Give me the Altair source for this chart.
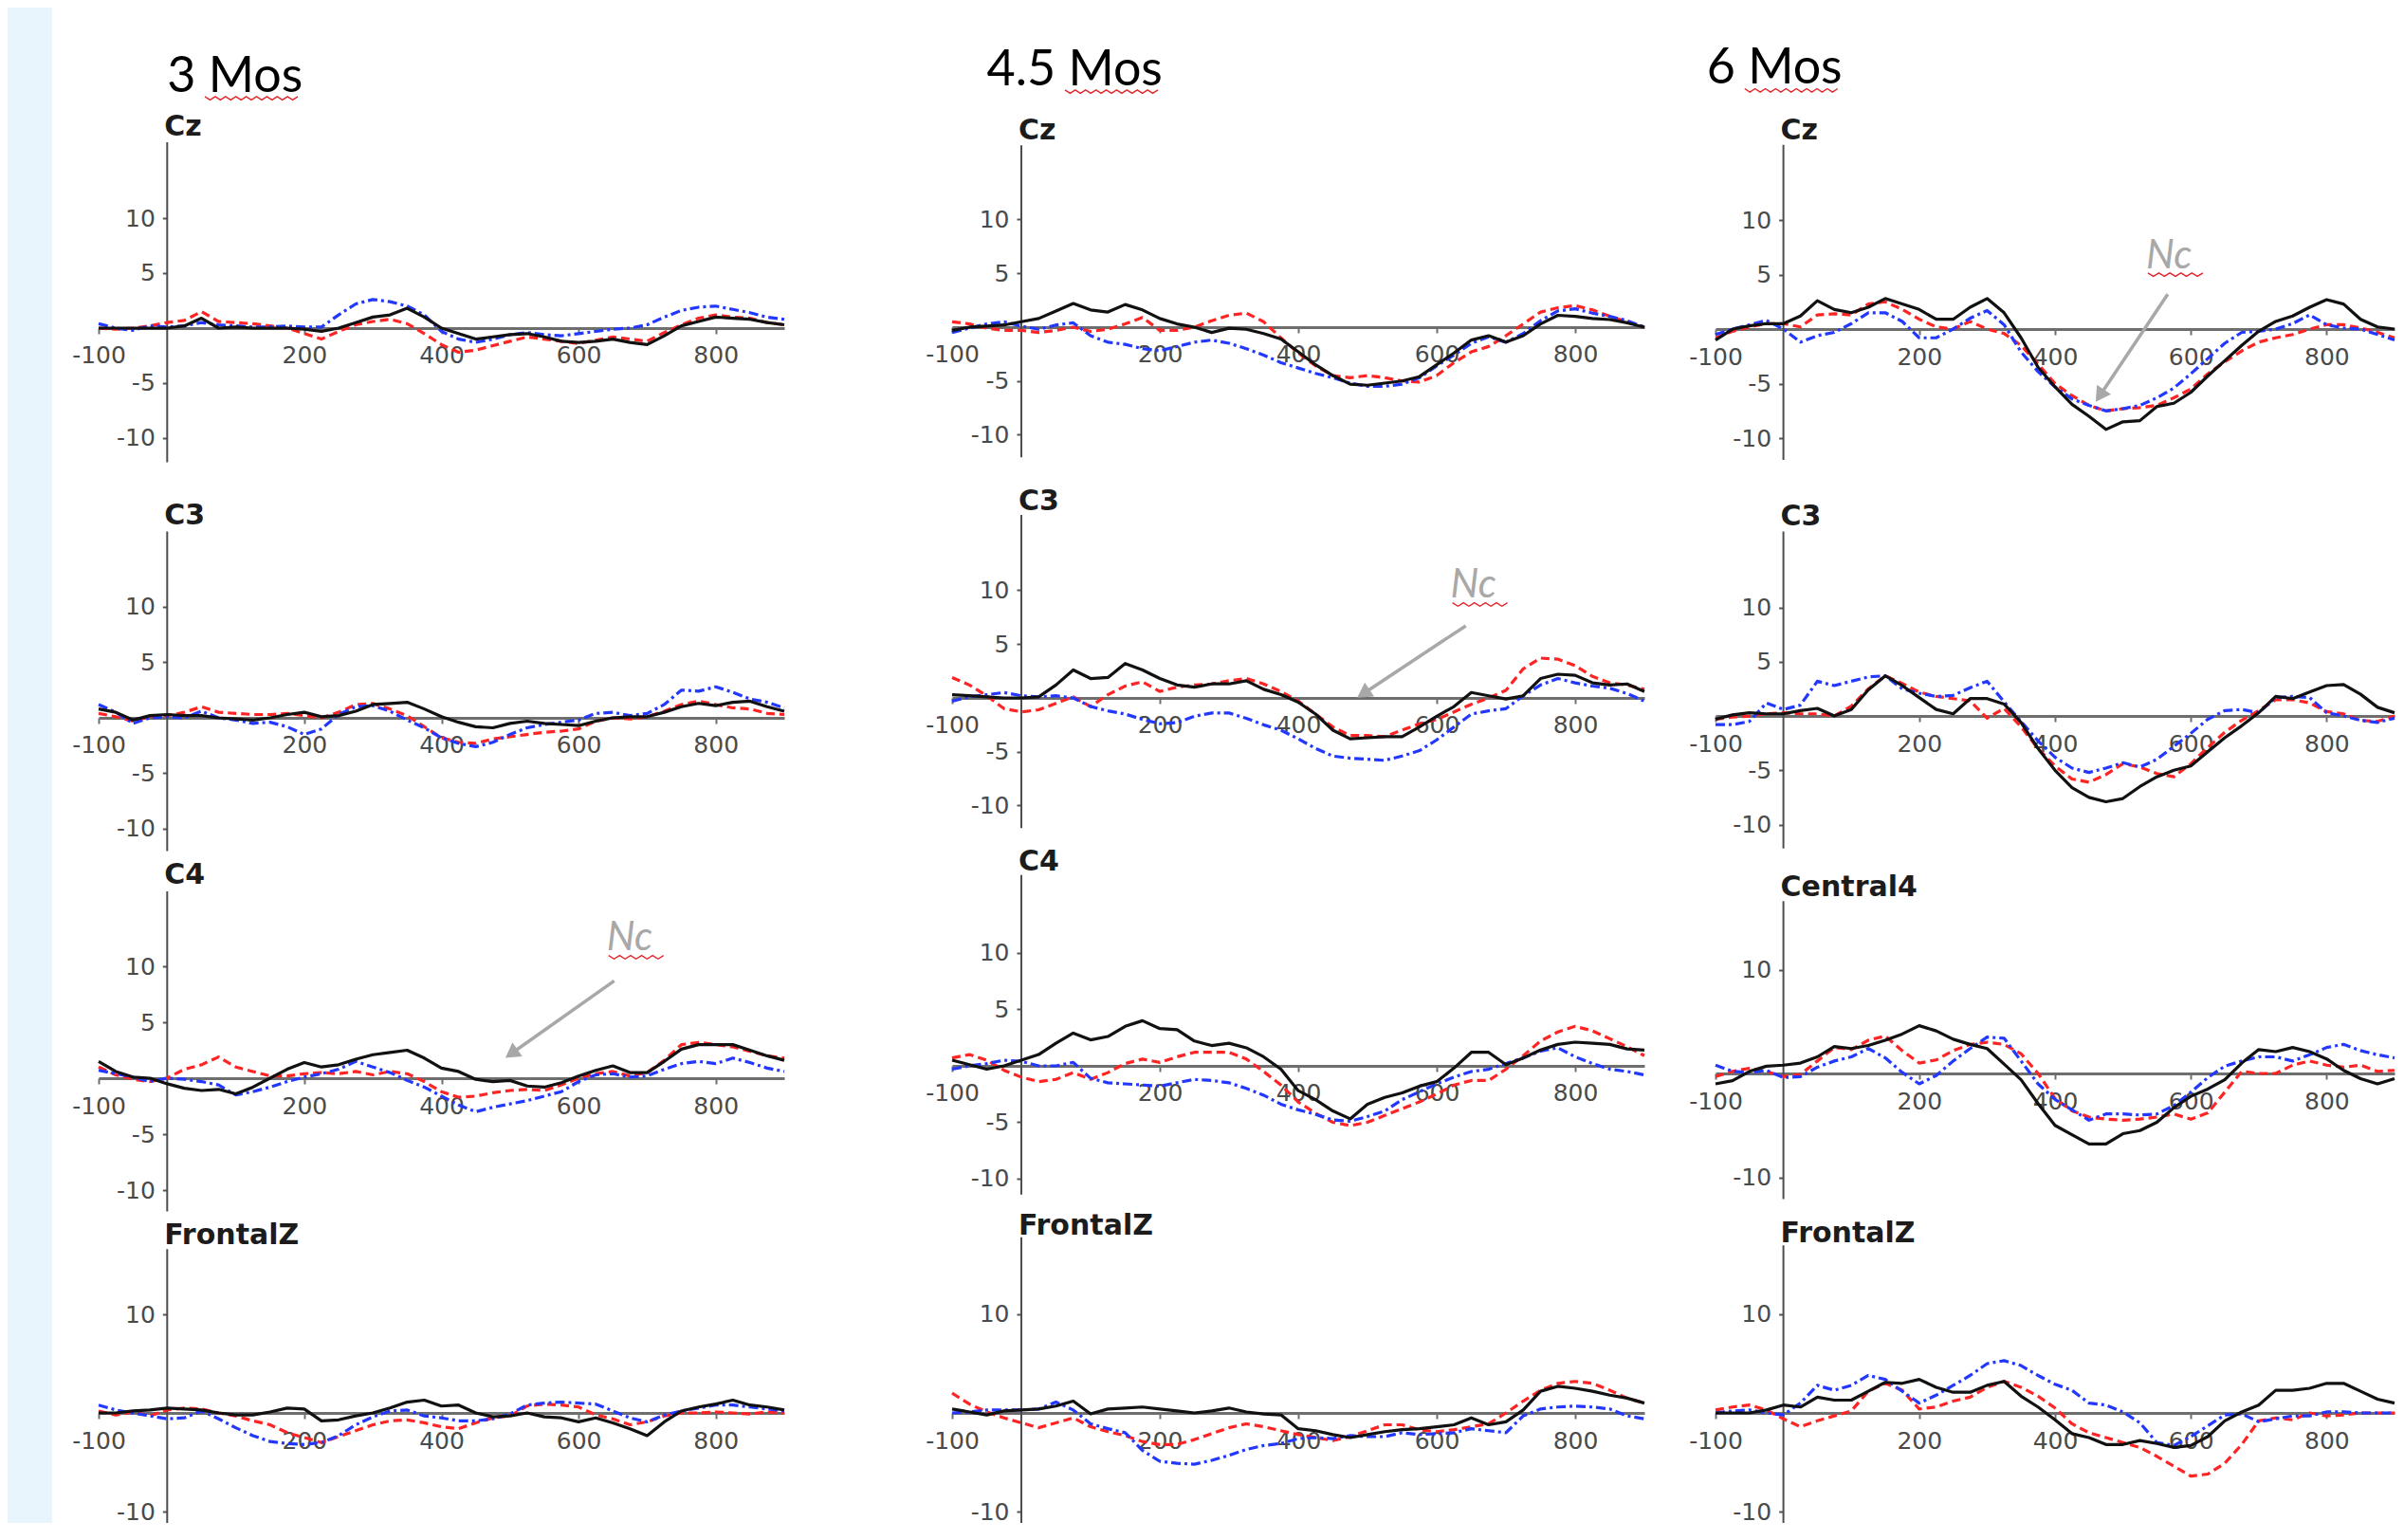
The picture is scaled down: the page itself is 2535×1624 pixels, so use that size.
import math
import altair as alt
import pandas as pd

# ---------------- data (µV, every 25 ms) ----------------
T = [-100, -75, -50, -25, 0, 25, 50, 75, 100, 125, 150, 175, 200, 225, 250, 275,
     300, 325, 350, 375, 400, 425, 450, 475, 500, 525, 550, 575, 600, 625, 650,
     675, 700, 725, 750, 775, 800, 825, 850, 875, 900]
X_TICKS = [-100, 200, 400, 600, 800]
AGES = ["3 Mos", "4.5 Mos", "6 Mos"]

# 3 months
m3_cz_black = [0.0, 0.0, 0.0, 0.0, 0.0, 0.2, 0.9, 0.0, 0.1, 0.0, 0.0, 0.0, -0.1, -0.3, 0.0, 0.5, 1.0, 1.2, 1.8, 1.0, 0.0, -0.5, -1.0, -0.8, -0.6, -0.5, -0.8, -1.2, -1.3, -1.2, -1.0, -1.3, -1.5, -0.7, 0.2, 0.6, 1.0, 0.9, 0.8, 0.5, 0.3]
m3_cz_red = [0.0, -0.1, 0.0, 0.2, 0.5, 0.7, 1.5, 0.6, 0.5, 0.4, 0.2, 0.0, -0.5, -1.0, -0.3, 0.3, 0.6, 0.8, 0.4, -0.5, -1.5, -2.2, -2.0, -1.6, -1.2, -0.8, -1.0, -1.2, -1.4, -1.1, -0.8, -1.0, -1.2, -0.4, 0.3, 0.9, 1.2, 1.0, 0.9, 0.5, 0.3]
m3_cz_blue = [0.4, 0.0, -0.2, 0.2, 0.1, 0.2, 0.5, 0.3, 0.2, 0.1, 0.1, 0.2, 0.1, 0.1, 1.2, 2.2, 2.6, 2.4, 2.0, 1.2, -0.3, -1.0, -1.3, -1.0, -0.6, -0.4, -0.6, -0.7, -0.5, -0.3, -0.1, 0.0, 0.3, 1.0, 1.6, 1.9, 2.0, 1.7, 1.4, 1.0, 0.8]

m3_c3_black = [0.8, 0.5, -0.2, 0.2, 0.3, 0.2, 0.2, 0.0, -0.1, -0.2, 0.0, 0.3, 0.5, 0.1, 0.2, 0.6, 1.2, 1.3, 1.4, 0.8, 0.1, -0.4, -0.8, -0.9, -0.5, -0.3, -0.5, -0.6, -0.7, -0.3, 0.0, 0.1, 0.1, 0.5, 1.0, 1.3, 1.1, 1.4, 1.5, 1.0, 0.6]
m3_c3_red = [0.4, 0.1, -0.3, 0.1, 0.2, 0.5, 1.0, 0.5, 0.4, 0.3, 0.3, 0.4, 0.2, 0.0, 0.5, 1.2, 1.3, 0.8, 0.2, -0.8, -1.8, -2.2, -2.3, -1.9, -1.7, -1.5, -1.3, -1.2, -1.0, -0.3, 0.0, -0.1, 0.1, 0.6, 1.2, 1.5, 1.2, 0.9, 0.8, 0.4, 0.3]
m3_c3_blue = [1.2, 0.5, -0.5, 0.0, 0.1, 0.0, 0.6, 0.0, -0.2, -0.5, -0.4, -0.8, -1.5, -1.0, 0.3, 1.0, 1.1, 0.6, -0.2, -0.9, -1.8, -2.3, -2.6, -2.2, -1.5, -0.9, -0.6, -0.4, -0.2, 0.4, 0.5, 0.2, 0.4, 1.2, 2.5, 2.4, 2.8, 2.3, 1.7, 1.4, 0.9]

m3_c4_black = [1.5, 0.6, 0.1, 0.0, -0.5, -0.9, -1.1, -1.0, -1.4, -0.8, 0.0, 0.8, 1.4, 1.0, 1.2, 1.7, 2.1, 2.3, 2.5, 1.8, 0.9, 0.6, -0.1, -0.3, -0.2, -0.7, -0.8, -0.4, 0.2, 0.7, 1.1, 0.5, 0.5, 1.5, 2.6, 3.0, 3.0, 3.0, 2.5, 2.0, 1.6]
m3_c4_red = [1.0, 0.3, -0.1, -0.3, 0.0, 0.8, 1.2, 1.9, 1.0, 0.6, 0.2, 0.2, 0.4, 0.5, 0.4, 0.6, 0.3, 0.6, 0.4, -0.3, -1.2, -1.7, -1.6, -1.3, -1.1, -1.0, -1.1, -0.6, 0.0, 0.4, 0.6, 0.2, 0.5, 1.6, 3.0, 3.2, 3.0, 2.8, 2.4, 2.0, 1.8]
m3_c4_blue = [0.7, 0.4, 0.1, -0.3, 0.0, -0.1, -0.3, -0.6, -1.5, -1.2, -0.8, -0.3, 0.1, 0.4, 0.8, 1.5, 1.0, 0.5, -0.2, -0.8, -1.6, -2.4, -3.0, -2.6, -2.3, -2.0, -1.6, -1.2, -0.3, 0.3, 0.4, 0.1, 0.2, 0.8, 1.3, 1.5, 1.3, 1.8, 1.4, 0.9, 0.6]

m3_fz_black = [0.0, 0.0, 0.2, 0.3, 0.5, 0.4, 0.3, 0.0, -0.2, -0.2, 0.1, 0.5, 0.4, -0.8, -0.7, -0.3, 0.0, 0.5, 1.1, 1.3, 0.7, 0.8, 0.0, -0.4, -0.3, 0.0, -0.4, -0.5, -0.9, -0.5, -1.0, -1.6, -2.3, -0.9, 0.2, 0.6, 0.9, 1.3, 0.8, 0.6, 0.3]
m3_fz_red = [0.2, -0.2, 0.1, -0.3, 0.3, 0.5, 0.4, 0.0, -0.3, -0.8, -1.2, -2.0, -2.5, -3.0, -2.4, -1.8, -1.2, -0.8, -0.7, -1.0, -1.4, -1.6, -1.0, -0.5, -0.3, 0.7, 0.9, 0.8, 0.6, -0.2, -0.6, -1.2, -0.9, -0.3, 0.0, 0.0, 0.1, 0.0, -0.1, 0.1, 0.0]
m3_fz_blue = [0.8, 0.3, 0.0, -0.3, -0.6, -0.5, 0.2, -0.6, -1.5, -2.3, -2.9, -3.1, -3.2, -3.0, -2.3, -1.2, -0.4, 0.2, 0.3, -0.3, -0.5, -0.8, -0.8, -0.6, -0.1, 0.8, 1.0, 1.1, 1.0, 0.9, 0.2, -0.5, -0.9, -0.2, 0.2, 0.5, 0.8, 0.8, 0.6, 0.4, 0.2]

# 4.5 months
m45_cz_black = [-0.3, 0.0, 0.1, 0.2, 0.5, 0.8, 1.5, 2.2, 1.6, 1.4, 2.1, 1.6, 0.8, 0.3, 0.0, -0.5, -0.1, -0.2, -0.6, -1.1, -2.3, -3.5, -4.5, -5.3, -5.4, -5.2, -5.0, -4.6, -3.5, -2.4, -1.2, -0.8, -1.4, -0.8, 0.3, 1.1, 1.0, 0.8, 0.7, 0.4, 0.0]
m45_cz_red = [0.5, 0.3, -0.1, -0.3, -0.3, -0.5, -0.3, 0.0, -0.4, -0.2, 0.3, 0.9, -0.3, -0.3, 0.0, 0.6, 1.1, 1.3, 0.5, -1.0, -2.4, -3.6, -4.5, -4.7, -4.5, -4.7, -5.0, -5.1, -4.5, -3.3, -2.3, -1.8, -0.8, 0.3, 1.4, 1.8, 2.0, 1.6, 1.0, 0.5, 0.0]
m45_cz_blue = [-0.5, -0.1, 0.3, 0.5, 0.1, -0.2, 0.2, 0.4, -0.8, -1.4, -1.6, -2.0, -2.2, -1.8, -1.4, -1.2, -1.5, -2.0, -2.6, -3.3, -3.8, -4.3, -4.7, -5.2, -5.5, -5.5, -5.3, -4.7, -3.6, -2.6, -1.5, -0.9, -1.4, -0.6, 0.6, 1.5, 1.7, 1.3, 1.0, 0.6, 0.0]

m45_c3_black = [0.3, 0.2, 0.1, 0.0, 0.0, 0.1, 1.2, 2.6, 1.8, 1.9, 3.2, 2.6, 1.8, 1.2, 1.0, 1.3, 1.3, 1.6, 0.8, 0.3, -0.4, -1.5, -3.0, -3.8, -3.7, -3.6, -3.6, -2.7, -1.7, -0.8, 0.5, 0.2, -0.1, 0.2, 1.8, 2.2, 2.1, 1.4, 1.2, 1.3, 0.6]
m45_c3_red = [1.9, 1.2, 0.2, -1.0, -1.3, -1.1, -0.5, 0.1, -0.8, 0.3, 1.1, 1.5, 0.6, 1.0, 1.2, 1.3, 1.6, 1.8, 1.3, 0.6, -0.3, -1.5, -2.7, -3.5, -3.5, -3.6, -3.0, -2.4, -2.0, -1.3, -0.6, 0.0, 0.7, 2.7, 3.7, 3.6, 3.0, 2.0, 1.4, 1.2, 0.8]
m45_c3_blue = [-0.3, 0.1, 0.3, 0.5, 0.2, 0.1, 0.2, 0.0, -0.8, -1.2, -1.5, -2.0, -2.4, -2.3, -1.7, -1.4, -1.4, -1.9, -2.5, -3.0, -3.8, -4.7, -5.4, -5.6, -5.7, -5.8, -5.4, -4.9, -3.9, -2.7, -1.5, -1.2, -1.0, 0.2, 1.2, 1.8, 1.4, 1.1, 0.9, 0.4, -0.3]

m45_c4_black = [0.5, 0.1, -0.3, 0.0, 0.5, 1.0, 2.0, 2.9, 2.3, 2.6, 3.5, 4.0, 3.3, 3.2, 2.2, 1.8, 2.0, 1.6, 0.8, -0.3, -2.2, -3.0, -4.0, -4.7, -3.4, -2.8, -2.4, -1.8, -1.4, -0.2, 1.2, 1.2, 0.1, 0.7, 1.4, 1.9, 2.1, 2.0, 1.9, 1.5, 1.4]
m45_c4_red = [0.7, 1.0, 0.5, -0.4, -1.0, -1.4, -1.2, -0.6, -1.2, -0.6, 0.2, 0.6, 0.3, 0.8, 1.2, 1.2, 1.2, 0.6, -0.5, -1.7, -3.2, -4.2, -5.0, -5.3, -5.0, -4.4, -3.8, -3.2, -2.5, -1.7, -1.3, -1.3, -0.3, 0.9, 2.2, 3.0, 3.5, 3.1, 2.4, 1.7, 0.9]
m45_c4_blue = [-0.3, 0.0, 0.2, 0.5, 0.4, 0.0, 0.0, 0.3, -1.1, -1.5, -1.6, -1.7, -1.8, -1.5, -1.2, -1.3, -1.5, -2.0, -2.6, -3.4, -3.9, -4.3, -4.8, -4.9, -4.5, -4.0, -3.0, -2.3, -1.6, -1.0, -0.5, -0.3, 0.2, 0.7, 1.3, 1.6, 0.8, 0.2, -0.3, -0.5, -0.8]

m45_fz_black = [0.4, 0.1, -0.2, 0.2, 0.3, 0.4, 0.7, 1.2, -0.1, 0.4, 0.5, 0.6, 0.4, 0.2, 0.0, 0.2, 0.5, 0.1, -0.1, -0.2, -1.6, -1.8, -2.2, -2.5, -2.2, -1.9, -1.7, -1.6, -1.4, -1.2, -0.5, -1.2, -0.9, 0.3, 2.2, 2.7, 2.5, 2.2, 1.8, 1.5, 1.0]
m45_fz_red = [2.0, 0.9, 0.1, -0.5, -1.0, -1.5, -1.0, -0.5, -1.4, -1.9, -2.3, -2.9, -3.2, -3.2, -2.7, -2.1, -1.5, -1.1, -1.4, -1.8, -2.2, -2.5, -2.8, -2.4, -1.8, -1.2, -1.2, -1.7, -1.9, -1.7, -1.4, -1.1, 0.0, 1.2, 2.3, 3.0, 3.2, 3.0, 2.3, 1.5, 1.0]
m45_fz_blue = [0.0, 0.1, 0.3, 0.3, 0.3, 0.4, 1.1, 0.3, -1.1, -1.6, -2.0, -3.8, -4.9, -5.1, -5.2, -4.8, -4.3, -3.7, -3.3, -3.1, -2.6, -2.5, -2.6, -2.3, -2.4, -2.4, -2.0, -2.2, -2.1, -2.0, -1.6, -1.8, -2.0, -0.3, 0.4, 0.6, 0.7, 0.6, 0.4, -0.3, -0.6]

# 6 months
m6_cz_black = [-1.0, 0.0, 0.3, 0.5, 0.5, 1.2, 2.6, 1.8, 1.5, 2.0, 2.8, 2.3, 1.8, 0.9, 0.9, 2.0, 2.8, 1.5, -0.8, -3.5, -5.3, -6.9, -8.0, -9.2, -8.5, -8.4, -7.1, -6.8, -5.8, -4.3, -2.9, -1.5, -0.2, 0.7, 1.2, 2.0, 2.7, 2.3, 0.9, 0.2, 0.0]
m6_cz_red = [-0.8, -0.2, 0.2, 0.5, 0.5, 0.2, 1.3, 1.4, 1.3, 2.3, 2.5, 1.8, 0.9, 0.2, 0.0, 0.7, 0.0, -0.4, -1.5, -3.2, -5.0, -6.1, -7.0, -7.5, -7.3, -7.2, -7.0, -6.3, -5.5, -4.1, -3.0, -2.0, -1.2, -0.8, -0.5, 0.0, 0.4, 0.4, 0.1, -0.3, -0.8]
m6_cz_blue = [-0.5, 0.0, 0.4, 0.8, 0.0, -1.2, -0.6, -0.3, 0.5, 1.5, 1.5, 0.7, -0.8, -0.8, 0.0, 1.0, 1.7, 0.4, -2.1, -3.9, -5.3, -6.4, -7.0, -7.5, -7.3, -7.0, -6.3, -5.4, -4.1, -2.7, -1.3, -0.3, -0.2, 0.0, 0.5, 1.3, 0.4, 0.1, 0.0, -0.5, -1.0]

m6_c3_black = [-0.3, 0.1, 0.3, 0.2, 0.2, 0.5, 0.7, 0.0, 0.6, 2.4, 3.7, 2.8, 1.7, 0.6, 0.2, 1.6, 1.6, 1.1, -0.6, -3.0, -5.0, -6.6, -7.5, -7.9, -7.6, -6.5, -5.6, -5.0, -4.6, -3.3, -2.0, -0.9, 0.3, 1.8, 1.6, 2.2, 2.8, 2.9, 2.0, 0.8, 0.3]
m6_c3_red = [-0.3, -0.1, 0.0, 0.2, 0.3, 0.2, 0.2, 0.0, 0.9, 2.5, 3.7, 3.0, 2.2, 1.8, 1.6, 1.4, -0.2, 0.7, -1.0, -3.0, -4.6, -5.8, -6.1, -5.4, -4.4, -4.7, -5.3, -5.6, -4.4, -2.9, -1.5, -0.4, 0.5, 1.5, 1.5, 1.2, 0.4, 0.2, -0.4, -0.5, 0.0]
m6_c3_blue = [-0.8, -0.8, -0.5, 1.2, 0.6, 1.0, 3.2, 2.8, 3.2, 3.6, 3.7, 2.5, 2.1, 1.8, 1.9, 2.6, 3.2, 1.3, -0.5, -2.3, -3.8, -4.8, -5.2, -4.8, -4.3, -4.7, -4.0, -2.8, -1.6, -0.3, 0.5, 0.6, 0.3, 1.7, 1.8, 1.7, 0.3, 0.0, -0.4, -0.6, -0.2]

m6_c4_black = [-1.0, -0.7, 0.2, 0.7, 0.8, 1.0, 1.6, 2.6, 2.4, 2.7, 3.2, 3.8, 4.6, 4.1, 3.3, 2.8, 2.4, 0.9, -0.6, -2.9, -5.0, -5.9, -6.8, -6.8, -5.8, -5.5, -4.7, -3.3, -2.2, -1.5, -0.6, 1.0, 2.3, 2.1, 2.5, 2.1, 1.4, 0.3, -0.5, -1.0, -0.5]
m6_c4_red = [-0.3, 0.2, 0.5, 0.2, -0.3, -0.1, 1.2, 2.5, 2.3, 3.2, 3.6, 2.2, 1.0, 1.3, 2.2, 2.8, 3.0, 2.8, 1.9, 0.0, -2.4, -3.6, -4.2, -4.4, -4.5, -4.4, -4.2, -3.9, -4.4, -3.8, -1.8, 0.2, 0.0, 0.0, 0.8, 1.2, 0.8, 0.6, 0.8, 0.2, 0.3]
m6_c4_blue = [0.8, 0.2, 0.1, 0.3, -0.4, -0.3, 0.6, 1.2, 1.6, 2.4, 1.5, 0.1, -1.0, -0.2, 1.2, 2.4, 3.5, 3.4, 1.2, -1.0, -2.5, -3.5, -4.5, -3.9, -3.9, -4.0, -3.9, -3.1, -1.8, -0.4, 0.7, 1.2, 1.6, 1.6, 1.2, 1.8, 2.5, 2.8, 2.2, 1.8, 1.5]

m6_fz_black = [0.0, 0.0, 0.0, 0.3, 0.8, 0.6, 1.6, 1.3, 1.3, 2.2, 3.1, 3.0, 3.4, 2.6, 2.1, 2.1, 2.8, 3.2, 1.7, 0.6, -0.7, -2.1, -2.5, -3.2, -3.2, -2.8, -3.1, -3.5, -3.3, -2.4, -0.8, 0.1, 0.8, 2.3, 2.3, 2.5, 3.0, 3.0, 2.2, 1.4, 1.0]
m6_fz_red = [0.3, 0.6, 0.8, 0.3, -0.6, -1.4, -0.8, -0.3, 0.2, 2.2, 3.0, 2.3, 0.4, 0.6, 1.2, 1.6, 2.6, 3.2, 2.6, 1.7, 0.5, -1.1, -2.0, -2.5, -3.0, -3.5, -4.4, -5.4, -6.4, -6.2, -5.1, -3.2, -0.8, -0.5, -0.7, 0.0, -0.3, -0.2, 0.0, 0.0, 0.0]
m6_fz_blue = [0.0, 0.2, 0.3, 0.0, -0.2, 1.0, 2.8, 2.3, 2.8, 3.8, 3.4, 2.2, 1.0, 1.8, 2.8, 3.8, 5.0, 5.3, 4.8, 3.8, 2.9, 2.3, 1.0, 0.8, 0.1, -1.0, -3.0, -3.3, -2.4, -1.3, -0.2, -0.1, -0.9, -0.6, -0.3, -0.3, 0.1, 0.1, 0.0, 0.0, 0.0]

# panel contents: (channel label, y tick values, black, red, blue)
PANELS = [
    [("Cz", [10, 5, -5, -10], m3_cz_black, m3_cz_red, m3_cz_blue),
     ("C3", [10, 5, -5, -10], m3_c3_black, m3_c3_red, m3_c3_blue),
     ("C4", [10, 5, -5, -10], m3_c4_black, m3_c4_red, m3_c4_blue),
     ("FrontalZ", [10, -10], m3_fz_black, m3_fz_red, m3_fz_blue)],
    [("Cz", [10, 5, -5, -10], m45_cz_black, m45_cz_red, m45_cz_blue),
     ("C3", [10, 5, -5, -10], m45_c3_black, m45_c3_red, m45_c3_blue),
     ("C4", [10, 5, -5, -10], m45_c4_black, m45_c4_red, m45_c4_blue),
     ("FrontalZ", [10, -10], m45_fz_black, m45_fz_red, m45_fz_blue)],
    [("Cz", [10, 5, -5, -10], m6_cz_black, m6_cz_red, m6_cz_blue),
     ("C3", [10, 5, -5, -10], m6_c3_black, m6_c3_red, m6_c3_blue),
     ("Central4", [10, -10], m6_c4_black, m6_c4_red, m6_c4_blue),
     ("FrontalZ", [10, -10], m6_fz_black, m6_fz_red, m6_fz_blue)],
]

# "Nc" annotations: (col, row) -> text anchor (t, µV), arrow from -> to
NC = {
    (0, 2): {"text": (641, 11.4), "arrow": [(652, 8.7), (502, 2.2)]},
    (1, 1): {"text": (620, 9.3), "arrow": [(642, 6.7), (494, 0.4)]},
    (2, 0): {"text": (534, 5.6), "arrow": [(566, 3.2), (466, -6.1)]},
}

# ---------------- layout / style ----------------
COLS = [
    {"W": 723, "title_at": (0, 21.5), "squig_t": 55, "rows": [
        {"H": 502, "dom": (-14.14, 29.14), "label_v": 17.5, "axis": (-12.2, 16.9)},
        {"H": 395, "dom": (-12.65, 21.11), "label_v": 17.4, "axis": (-12.0, 16.8)},
        {"H": 380, "dom": (-12.54, 19.66), "label_v": 17.4, "axis": (-11.9, 16.7)},
        {"H": 321, "dom": (-11.15, 19.71), "label_v": 17.1, "axis": (-11.15, 16.6)}]},
    {"W": 730, "title_at": (-50, 22.5), "squig_t": 63, "rows": [
        {"H": 497, "dom": (-14.10, 29.69), "label_v": 17.4, "axis": (-12.1, 16.9)},
        {"H": 385, "dom": (-13.57, 20.35), "label_v": 17.4, "axis": (-12.1, 17.0)},
        {"H": 385, "dom": (-12.69, 19.66), "label_v": 17.3, "axis": (-11.4, 16.9)},
        {"H": 331, "dom": (-11.15, 20.67), "label_v": 18.1, "axis": (-11.15, 17.8)}]},
    {"W": 716, "title_at": (-113, 22.5), "squig_t": -57, "rows": [
        {"H": 502, "dom": (-14.17, 29.48), "label_v": 17.4, "axis": (-12.0, 16.9)},
        {"H": 405, "dom": (-13.97, 21.40), "label_v": 17.6, "axis": (-12.2, 17.0)},
        {"H": 368, "dom": (-13.79, 19.82), "label_v": 17.1, "axis": (-12.1, 16.6)},
        {"H": 323, "dom": (-11.15, 19.90), "label_v": 17.3, "axis": (-11.15, 17.0)}]},
]
TOTAL_H = 1598

STYLE = [
    ("red", "#ff2424", [9, 5]),
    ("blue", "#2238ff", [10, 4, 3, 4]),
    ("black", "#111111", None),
]
TICK_FONT = "DejaVu Sans"
TICK_COLOR = "#4a4a4a"
NC_COLOR = "#a8a8a8"
SQUIG_COLOR = "#e3262b"


def wave_shape(periods, width_px, amp_px):
    """SVG path (symbol units -1..1) of a spell-check style zig-zag."""
    a = 2.0 * amp_px / width_px
    n = 2 * periods
    pts = []
    for k in range(n + 1):
        x = -1 + 2.0 * k / n
        y = a if k % 2 else -a
        pts.append(f"{x:.4f},{y:.4f}")
    return "M" + " L".join(pts)


def make_panel(ci, ri, title=None):
    col = COLS[ci]
    lay = col["rows"][ri]
    W, H = col["W"], lay["H"]
    ymin, ymax = lay["dom"]
    label, yticks, black, red, blue = PANELS[ci][ri]
    series = {"black": black, "red": red, "blue": blue}
    ppx = W / 1000.0
    ppy = H / (ymax - ymin)

    x_off = -(0 - ymin) * ppy
    y_off = -100 * ppx

    xs = alt.Scale(domain=[-100, 900], nice=False, zero=False)
    ys = alt.Scale(domain=[ymin, ymax], nice=False, zero=False)
    xaxis = alt.Axis(values=X_TICKS, offset=x_off, grid=False, title=None,
                     domainColor="#6e6e6e", domainWidth=3,
                     tickColor="#6e6e6e", tickSize=6, tickWidth=2,
                     labelFont=TICK_FONT, labelFontSize=25, labelColor=TICK_COLOR,
                     labelPadding=11, labelFlush=False, labelOverlap=False,
                     labelExpr="'' + datum.value")
    yaxis = alt.Axis(values=yticks, offset=y_off, grid=False, title=None,
                     domain=False, tickColor="#555555", tickSize=5, tickWidth=2,
                     labelFont=TICK_FONT, labelFontSize=25, labelColor=TICK_COLOR,
                     labelPadding=8, labelOverlap=False,
                     labelExpr="'' + datum.value")

    def X(f):
        return alt.X(f, type="quantitative", scale=xs, axis=xaxis)

    def Y(f):
        return alt.Y(f, type="quantitative", scale=ys, axis=yaxis)

    def squiggle(t_left, v_base, width_px, periods):
        sdf = pd.DataFrame({"t": [t_left + (width_px / 2.0) / ppx],
                            "v": [v_base - 7.0 / ppy]})
        return alt.Chart(sdf).mark_point(
            shape=wave_shape(periods, width_px, 1.8), size=width_px ** 2,
            filled=False, strokeWidth=1.4, color=SQUIG_COLOR, opacity=1
        ).encode(x=X("t"), y=Y("v"))

    layers = []
    # vertical axis line at t = 0
    ax_df = pd.DataFrame({"t": [0], "v": [lay["axis"][0]], "v2": [lay["axis"][1]]})
    layers.append(alt.Chart(ax_df).mark_rule(color="#4d4d4d", strokeWidth=2)
                  .encode(x=X("t"), y=Y("v"), y2="v2"))
    # ERP waveforms
    for name, color, dash in STYLE:
        df = pd.DataFrame({"t": T, "v": series[name][:len(T)]})
        kw = dict(color=color, strokeWidth=3.2, strokeJoin="round")
        if dash:
            kw["strokeDash"] = dash
        layers.append(alt.Chart(df).mark_line(**kw).encode(x=X("t"), y=Y("v")))
    # channel label
    lab_df = pd.DataFrame({"t": [0], "v": [lay["label_v"]], "txt": [label]})
    layers.append(alt.Chart(lab_df).mark_text(
        align="left", baseline="alphabetic", font="DejaVu Sans", fontWeight="bold",
        fontSize=30, color="#1c1c1c", dx=-3).encode(x=X("t"), y=Y("v"), text="txt:N"))
    # age title with spell-check squiggle under "Mos"
    if title is not None:
        tt, tv = col["title_at"]
        tdf = pd.DataFrame({"t": [tt], "v": [tv], "txt": [title]})
        layers.append(alt.Chart(tdf).mark_text(
            align="left", baseline="alphabetic", font="Lato", fontSize=52,
            color="#000000").encode(x=X("t"), y=Y("v"), text="txt:N"))
        layers.append(squiggle(col["squig_t"], tv, 98, 9))
    # Nc annotation
    nc = NC.get((ci, ri))
    if nc:
        (t0, v0), (t1, v1) = nc["arrow"]
        adf = pd.DataFrame({"t": [t0, t1], "v": [v0, v1]})
        layers.append(alt.Chart(adf).mark_line(color=NC_COLOR, strokeWidth=3.5)
                      .encode(x=X("t"), y=Y("v")))
        dx = (t1 - t0) * ppx
        dy = -(v1 - v0) * ppy
        ang = math.degrees(math.atan2(dx, -dy)) % 360
        hdf = pd.DataFrame({"t": [t1], "v": [v1]})
        layers.append(alt.Chart(hdf).mark_point(
            shape="triangle-up", filled=True, size=320, angle=ang,
            color=NC_COLOR, opacity=1).encode(x=X("t"), y=Y("v")))
        ntx, nty = nc["text"]
        ndf = pd.DataFrame({"t": [ntx], "v": [nty], "txt": ["Nc"]})
        layers.append(alt.Chart(ndf).mark_text(
            align="left", baseline="alphabetic", font="Lato", fontStyle="italic",
            fontSize=42, color=NC_COLOR).encode(x=X("t"), y=Y("v"), text="txt:N"))
        layers.append(squiggle(ntx + 2 / ppx, nty, 58, 5))

    return alt.layer(*layers).properties(width=W, height=H)


columns = []
for ci in range(3):
    panels = [make_panel(ci, ri, AGES[ci] if ri == 0 else None) for ri in range(4)]
    columns.append(alt.vconcat(*panels, spacing=0))

strip = alt.Chart(alt.Data(values=[{"a": 1}])).mark_rect(color="#e9f5fd").encode(
    x=alt.value(0), x2=alt.value(47), y=alt.value(0), y2=alt.value(TOTAL_H)
).properties(width=47, height=TOTAL_H)

inner = alt.hconcat(columns[1], columns[2], spacing=44)
inner = alt.hconcat(columns[0], inner, spacing=146)
chart = alt.hconcat(strip, inner, spacing=20).properties(
    padding=0, background="white"
).configure_view(strokeWidth=0)

chart.save("out.html", embed_options={"renderer": "svg", "actions": False})
